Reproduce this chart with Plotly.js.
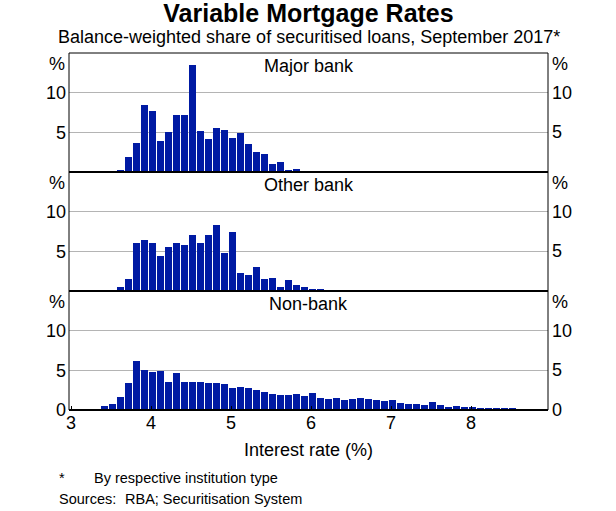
<!DOCTYPE html>
<html><head><meta charset="utf-8">
<script src="https://cdn.plot.ly/plotly-3.0.1.min.js"></script>
<style>body{margin:0;background:#fff}#chart{width:616px;height:511px}</style>
</head><body><div id="chart"></div>
<script>
// Interest-rate bins (%, nominal bin label)
const majorBins = [3.6,3.7,3.8,3.9,4.0,4.1,4.2,4.3,4.4,4.5,4.6,4.7,4.8,4.9,5.0,5.1,5.2,5.3,5.4,5.5,5.6,5.7,5.8];
const majorShare = [0.25,1.9,3.66,8.45,7.7,3.9,5.04,7.18,7.18,13.5,5.17,4.16,5.55,5.3,4.29,4.92,3.53,2.52,2.27,1.0,1.26,0.25,0.38];

const otherBins = [3.6,3.7,3.8,3.9,4.0,4.1,4.2,4.3,4.4,4.5,4.6,4.7,4.8,4.9,5.0,5.1,5.2,5.3,5.4,5.5,5.6,5.7,5.8,5.9,6.0,6.1,6.2];
const otherShare = [0.52,1.55,6.08,6.47,6.08,4.4,5.56,6.08,5.82,7.11,6.08,7.11,8.28,4.78,7.5,2.33,2.07,2.97,1.55,1.68,0.52,1.42,0.78,0.52,0.26,0.26,0.13];

const nonBins = [3.4,3.5,3.6,3.7,3.8,3.9,4.0,4.1,4.2,4.3,4.4,4.5,4.6,4.7,4.8,4.9,5.0,5.1,5.2,5.3,5.4,5.5,5.6,5.7,5.8,5.9,6.0,6.1,6.2,6.3,6.4,6.5,6.6,6.7,6.8,6.9,7.0,7.1,7.2,7.3,7.4,7.5,7.6,7.7,7.8,7.9,8.0,8.1,8.2,8.3,8.4,8.5];
const nonShare = [0.54,0.79,1.67,3.42,6.17,5.04,4.79,4.92,3.54,4.67,3.54,3.54,3.54,3.42,3.42,3.29,2.79,2.92,2.79,2.54,2.29,2.04,1.92,1.92,2.04,1.79,2.17,1.54,1.42,1.54,1.29,1.42,1.54,1.42,1.29,1.17,1.29,0.92,0.79,0.79,0.67,1.04,0.67,0.42,0.54,0.42,0.42,0.29,0.25,0.25,0.25,0.25];

const panelNames = ['Major bank','Other bank','Non-bank'];
const xTicks = [3,4,5,6,7,8];
const yTicksUpper = [5,10];
const yTicksBottom = [0,5,10];

const BLUE = '#001aa3';
const FONT = 'Liberation Sans, Arial, sans-serif';
const FS = 18;

function barTrace(x, y, xa, ya){
  return {type:'bar', x:x, y:y, xaxis:xa, yaxis:ya, width:0.088, offset:-0.022,
    marker:{color:BLUE, line:{width:0}}, hoverinfo:'x+y', showlegend:false};
}

const data = [
  barTrace(majorBins, majorShare, 'x3', 'y3'),
  barTrace(otherBins, otherShare, 'x2', 'y2'),
  barTrace(nonBins, nonShare, 'x', 'y')
];

const tickFont = {family:FONT, size:FS, color:'#000'};
const xRange = [2.975, 8.9625];
function leftY(dom, vals){
  return {domain:dom, range:[0,15], tickvals:vals, ticktext:vals.map(String), showgrid:true,
    gridcolor:'#b4b4b4', gridwidth:1, zeroline:false, showline:false, ticks:'', ticklabelstandoff:2,
    tickfont:tickFont, fixedrange:true};
}

const third = 1/3;
const annotations = [];
const panelRefs = ['y3','y2','y'];
const panelTicks = [yTicksUpper, yTicksUpper, yTicksBottom];
const txt = (o)=>Object.assign({showarrow:false, font:{family:FONT, size:FS, color:'#000'}}, o);
panelNames.forEach((n,i)=>{
  annotations.push(txt({text:n, xref:'paper', x:0.5, yref:panelRefs[i], y:13.3, yanchor:'middle'}));
  annotations.push(txt({text:'%', xref:'paper', x:0, xanchor:'right', xshift:-2, yref:panelRefs[i], y:15, yanchor:'top', yshift:1}));
  annotations.push(txt({text:'%', xref:'paper', x:1, xanchor:'left', xshift:2, yref:panelRefs[i], y:15, yanchor:'top', yshift:1}));
  panelTicks[i].forEach(v=>{
    annotations.push(txt({text:String(v), xref:'paper', x:1, xanchor:'left', xshift:2, yref:panelRefs[i], y:v, yanchor:'middle'}));
  });
});
annotations.push(txt({text:'Balance-weighted share of securitised loans, September 2017*', xref:'paper', x:0.5, yref:'paper', y:1.045, yanchor:'middle'}));
annotations.push(txt({text:'Interest rate (%)', xref:'paper', x:0.5, yref:'paper', y:-0.112, yanchor:'middle'}));
const small = {family:FONT, size:14.5, color:'#000'};
annotations.push({text:'*', xref:'paper', x:-0.025, xanchor:'left', yref:'paper', y:-0.19, yanchor:'middle', showarrow:false, font:small});
annotations.push({text:'By respective institution type', xref:'paper', x:0.048, xanchor:'left', yref:'paper', y:-0.19, yanchor:'middle', showarrow:false, font:small});
annotations.push({text:'Sources:', xref:'paper', x:-0.025, xanchor:'left', yref:'paper', y:-0.249, yanchor:'middle', showarrow:false, font:small});
annotations.push({text:'RBA; Securitisation System', xref:'paper', x:0.113, xanchor:'left', yref:'paper', y:-0.249, yanchor:'middle', showarrow:false, font:small});

const shapes = [
  {type:'rect', xref:'paper', yref:'paper', x0:0, x1:1, y0:0, y1:1, line:{color:'#000', width:1}},
  {type:'line', xref:'paper', yref:'paper', x0:0, x1:1, y0:third, y1:third, line:{color:'#000', width:2}},
  {type:'line', xref:'paper', yref:'paper', x0:0, x1:1, y0:2*third, y1:2*third, line:{color:'#000', width:2}},
  {type:'line', xref:'paper', yref:'paper', x0:0, x1:1, y0:0, y1:0, line:{color:'#000', width:2}}
];

const layout = {
  width:616, height:511,
  margin:{l:69, r:68, t:53, b:101},
  paper_bgcolor:'#fff', plot_bgcolor:'rgba(0,0,0,0)',
  font:{family:FONT, color:'#000'},
  title:{text:'<b>Variable Mortgage Rates</b>', font:{family:FONT, size:25, color:'#000'}, x:0.5, xanchor:'center', xref:'paper', y:0.975, yref:'container', yanchor:'middle'},
  bargap:0,
  xaxis:{anchor:'y', range:xRange, tickvals:xTicks, ticktext:xTicks.map(String), ticks:'inside', ticklen:4, tickcolor:'#000', tickwidth:1,
    showgrid:false, zeroline:false, showline:false, tickfont:tickFont, fixedrange:true},
  xaxis2:{anchor:'y2', matches:'x', range:xRange, showticklabels:false, ticks:'', showgrid:false, zeroline:false, showline:false},
  xaxis3:{anchor:'y3', matches:'x', range:xRange, showticklabels:false, ticks:'', showgrid:false, zeroline:false, showline:false},
  yaxis: leftY([0,third],yTicksBottom),
  yaxis2: leftY([third,2*third],yTicksUpper),
  yaxis3: leftY([2*third,1],yTicksUpper),
  annotations:annotations,
  shapes:shapes
};

Plotly.newPlot('chart', data, layout, {displayModeBar:false, staticPlot:true});
</script>
</body></html>
